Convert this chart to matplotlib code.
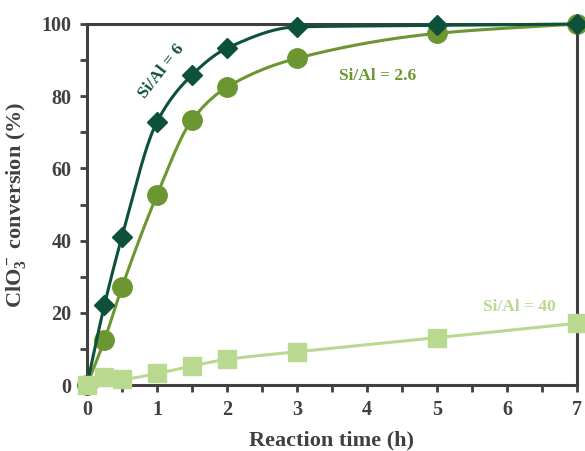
import numpy as np
import matplotlib.pyplot as plt

plt.rcParams['font.family'] = 'Liberation Serif'
plt.rcParams['font.weight'] = 'bold'
plt.rcParams['axes.labelweight'] = 'bold'
plt.rcParams['mathtext.fontset'] = 'custom'
plt.rcParams['mathtext.rm'] = 'Liberation Serif:bold'
plt.rcParams['mathtext.it'] = 'Liberation Serif:bold'
plt.rcParams['mathtext.bf'] = 'Liberation Serif:bold'

# reaction time (h)
time = [0, 0.25, 0.5, 1, 1.5, 2, 3, 5, 7]
# ClO3- conversion (%) for each catalyst
conv_si6 = [0, 22.2, 41.1, 72.9, 85.9, 93.3, 99.2, 99.6, 100]
conv_si26 = [0, 12.5, 27.1, 52.6, 73.4, 82.5, 90.5, 97.4, 100]
conv_si40 = [0, 2.2, 1.7, 3.2, 5.3, 7.1, 9.2, 13.1, 17.1]

gray = '#404040'
c6 = '#0d513b'
c26 = '#6b9631'
c40 = '#b9d990'


def smooth(x, y, n=300):
    # monotone cubic hermite curve through the points (Fritsch-Carlson)
    x = np.asarray(x, float)
    y = np.asarray(y, float)
    h = np.diff(x)
    d = np.diff(y) / h
    m = np.zeros_like(y)
    m[0], m[-1] = d[0], d[-1]
    for i in range(1, len(y) - 1):
        if d[i - 1] * d[i] <= 0:
            m[i] = 0
        else:
            w1 = 2 * h[i] + h[i - 1]
            w2 = h[i] + 2 * h[i - 1]
            m[i] = (w1 + w2) / (w1 / d[i - 1] + w2 / d[i])
    xs = np.linspace(x[0], x[-1], n)
    k = np.clip(np.searchsorted(x, xs) - 1, 0, len(x) - 2)
    t = (xs - x[k]) / h[k]
    h00 = 2 * t**3 - 3 * t**2 + 1
    h10 = t**3 - 2 * t**2 + t
    h01 = -2 * t**3 + 3 * t**2
    h11 = t**3 - t**2
    ys = h00 * y[k] + h10 * h[k] * m[k] + h01 * y[k + 1] + h11 * h[k] * m[k + 1]
    return xs, ys


fig = plt.figure(figsize=(5.85, 4.51), dpi=100)
ax = fig.add_axes([0.1487, 0.1463, 0.8376, 0.8005])

for y, col, mk, ms, z in [(conv_si26, c26, 'o', 14, 3),
                          (conv_si6, c6, 'D', 10.5, 4),
                          (conv_si40, c40, 's', 12.5, 5)]:
    xs, ys = smooth(time, y)
    ax.plot(xs, ys, color=col, lw=2.2, zorder=z, clip_on=False)
    ax.plot(time, y, ls='none', marker=mk, ms=ms, color=col, mec=col,
            zorder=z, clip_on=False)

ax.set_xlim(0, 7)
ax.set_ylim(0, 100)
ax.set_xticks(range(0, 8))
ax.set_xticks(np.arange(0.5, 7, 1), minor=True)
ax.set_yticks(range(0, 101, 20))
ax.set_yticks(range(10, 100, 20), minor=True)

for s in ax.spines.values():
    s.set_color(gray)
    s.set_linewidth(2.2)
ax.tick_params(which='both', direction='out', length=5, width=2, color=gray,
               labelsize=14.5, labelcolor=gray, pad=6)

ax.set_xlabel('Reaction time (h)', fontsize=16, color=gray, labelpad=7)
ax.set_ylabel('ClO$_3^-$ conversion (%)', fontsize=16, color=gray, labelpad=10)

ax.text(1.06, 87, 'Si/Al = 6', color=c6, fontsize=12.5, rotation=52,
        ha='center', va='center')
ax.text(4.15, 85.5, 'Si/Al = 2.6', color=c26, fontsize=12.5,
        ha='center', va='center')
ax.text(6.18, 21.5, 'Si/Al = 40', color=c40, fontsize=12.5,
        ha='center', va='center')

fig.savefig('out.png', dpi=100)
